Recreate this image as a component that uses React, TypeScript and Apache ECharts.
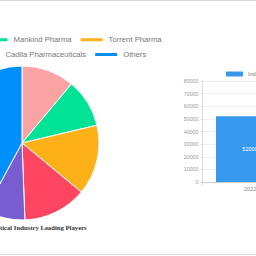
import React, { useEffect, useRef } from "react";
import * as echarts from "echarts";

const playerNames = [
  "Sun Pharmaceutical",
  "Mankind Pharma",
  "Torrent Pharma",
  "Dr. Reddy's Laboratories",
  "Cadila Pharmaceuticals",
  "Others",
];
const playerShares = [11.1, 10.2, 14.7, 13.4, 8.5, 42.1];
const playerColors = ["#F9A3A4", "#00E396", "#FEB019", "#FF4560", "#775DD0", "#008FFB"];

const years = ["2022"];
const marketSize = [52000];
const marketSeriesName = "Indian Pharmaceutical Industry Market Size (USD Million)";
const yMin = 0;
const yMax = 80000;
const yInterval = 10000;

const pieCaption = "Indian Pharmaceutical Industry Leading Players";

const OX = 200; // chart is wider than the window and shifted left
const W = 600;
const H = 256;

export default function App() {
  const ref = useRef<HTMLDivElement>(null);
  useEffect(() => {
    if (!ref.current) return;
    const chart = echarts.init(ref.current, undefined, { renderer: "svg" });
    const legendText = { fontSize: 7.7, color: "#777", fontFamily: "Liberation Sans" };
    const pieLegendBase = {
      orient: "horizontal",
      itemWidth: 24,
      itemHeight: 5,
      itemGap: 7,
      padding: 0,
      icon: "rect",
      textStyle: legendText,
    };
    chart.setOption({
      animation: false,
      color: playerColors,
      legend: [
        { ...pieLegendBase, data: [playerNames[1], playerNames[2]], left: -16.5 + OX, top: 35.8 },
        { ...pieLegendBase, data: [playerNames[4], playerNames[5]], left: -24.6 + OX, top: 50.5 },
        { ...pieLegendBase, data: [playerNames[0]], right: W - (-23.5 + OX), top: 35.8 },
        { ...pieLegendBase, data: [playerNames[3]], right: W - (-31.6 + OX), top: 50.5 },
        {
          orient: "horizontal",
          data: [marketSeriesName],
          left: 226 + OX,
          top: 71,
          padding: 0,
          itemWidth: 17,
          itemHeight: 5,
          icon: "rect",
          textStyle: { fontSize: 5.5, color: "#777", fontFamily: "Liberation Sans" },
        },
      ],
      grid: {
        left: 202.3 + OX,
        top: 81,
        width: 95.4,
        height: 101,
        containLabel: false,
      },
      xAxis: {
        type: "category",
        data: years,
        axisLine: { show: true, lineStyle: { color: "#ccc", width: 1 } },
        axisTick: { show: true, length: 3, lineStyle: { color: "#ccc" } },
        axisLabel: { fontSize: 5.5, color: "#888", margin: 4, fontFamily: "Liberation Sans" },
      },
      yAxis: {
        type: "value",
        min: yMin,
        max: yMax,
        interval: yInterval,
        axisLine: { show: true, lineStyle: { color: "#ddd", width: 1 } },
        axisTick: { show: true, length: 2, lineStyle: { color: "#ddd" } },
        axisLabel: {
          fontSize: 5.2,
          color: "#999",
          margin: 4,
          fontFamily: "Liberation Sans",
          formatter: (v: number) => String(v),
        },
        splitLine: { show: true, lineStyle: { color: "#f0f0f0", width: 1 } },
      },
      series: [
        {
          type: "pie",
          center: [22 + OX, 143],
          radius: 77,
          startAngle: 90,
          clockwise: true,
          label: { show: false },
          labelLine: { show: false },
          itemStyle: { borderColor: "#fff", borderWidth: 1 },
          data: playerNames.map((n, i) => ({ name: n, value: playerShares[i] })),
        },
        {
          type: "bar",
          name: marketSeriesName,
          data: marketSize,
          barWidth: 68,
          itemStyle: { color: "#3799EE" },
          label: {
            show: true,
            position: "inside",
            color: "#fff",
            fontSize: 5.5,
            fontFamily: "Liberation Sans",
            formatter: (p: any) => String(p.value),
          },
        },
      ],
      graphic: [
        { type: "rect", shape: { x: 0, y: 0, width: W, height: 1 }, style: { fill: "#d9d9d9" } },
        { type: "rect", shape: { x: 0, y: 254, width: W, height: 1 }, style: { fill: "#d9d9d9" } },
        {
          type: "text",
          x: 86.7 + OX,
          y: 227.3,
          style: {
            text: pieCaption,
            align: "right",
            verticalAlign: "middle",
            fontSize: 6.7,
            fontFamily: "Liberation Serif",
            fontWeight: "bold",
            fill: "#333",
          },
        },
      ],
    });
    return () => chart.dispose();
  }, []);
  return (
    <div
      style={{
        position: "fixed",
        left: 0,
        top: 0,
        width: 256,
        height: 256,
        overflow: "hidden",
        background: "#fff",
      }}
    >
      <div
        ref={ref}
        style={{ position: "absolute", left: -OX, top: 0, width: W, height: H }}
      />
    </div>
  );
}
